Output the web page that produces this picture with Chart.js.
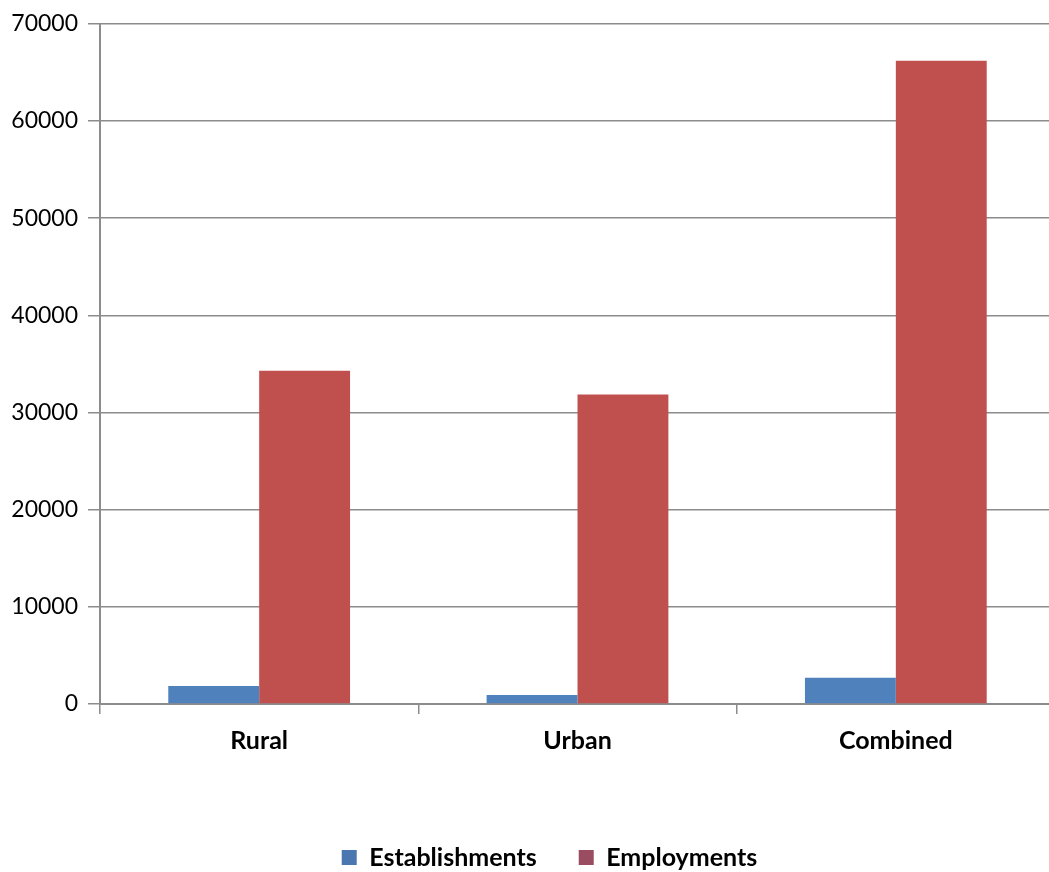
<!DOCTYPE html>
<html>
<head>
<meta charset="utf-8">
<script src="https://cdn.jsdelivr.net/npm/chart.js@4.4.0/dist/chart.umd.min.js"></script>
<style>
  html, body { margin: 0; padding: 0; background: #fff; overflow: hidden; }
  #wrap { width: 1049px; height: 872px; overflow: hidden; }
</style>
</head>
<body>
<div id="wrap"><canvas id="myChart" width="1060" height="884"></canvas></div>
<script>
const categories = ['Rural', 'Urban', 'Combined'];
const establishments = [1850, 930, 2700];
const employments = [34300, 31850, 66200];
const yTicks = [0, 10000, 20000, 30000, 40000, 50000, 60000, 70000];

const FONT = 'Lato, "Open Sans", sans-serif';

const data = {
    labels: categories,
    datasets: [{
        label: 'Establishments',
        data: establishments,
        backgroundColor: '#4f81bd',
        categoryPercentage: 0.571,
        barPercentage: 1.0
    }, {
        label: 'Employments',
        data: employments,
        backgroundColor: '#c0504d',
        categoryPercentage: 0.571,
        barPercentage: 1.0
    }]
};

const legendColors = ['#4a77b0', '#9a4d61'];

// the legend in the original sits a little right of centre
const legendShift = {
    id: 'legendShift',
    afterLayout: function (chart) {
        chart.legend.left += 22;
        chart.legend.right += 22;
    }
};

const config = {
    type: 'bar',
    data: data,
    plugins: [legendShift],
    options: {
        responsive: false,
        animation: false,
        layout: { padding: { top: 12, left: 0, right: 5, bottom: 4 } },
        plugins: {
            tooltip: { enabled: false },
            legend: {
                position: 'bottom',
                labels: {
                    font: { family: FONT, size: 25, weight: 'bold' },
                    color: '#000',
                    boxWidth: 15,
                    boxHeight: 15,
                    padding: 42,
                    generateLabels: function (chart) {
                        return chart.data.datasets.map(function (ds, i) {
                            return {
                                text: ds.label,
                                fillStyle: legendColors[i],
                                strokeStyle: legendColors[i],
                                lineWidth: 0,
                                datasetIndex: i,
                                fontColor: '#000'
                            };
                        });
                    }
                }
            }
        },
        scales: {
            x: {
                offset: true,
                grid: {
                    offset: true,
                    drawOnChartArea: false,
                    drawTicks: true,
                    tickLength: 10,
                    color: '#8c8c8c',
                    lineWidth: 1.5
                },
                border: { color: '#8c8c8c', width: 2 },
                ticks: {
                    font: { family: FONT, size: 25, weight: 'bold' },
                    color: '#000',
                    padding: 12
                },
                afterFit: function (scale) { scale.height += 35; }
            },
            y: {
                min: 0,
                max: 70000,
                afterBuildTicks: function (scale) {
                    scale.ticks = yTicks.map(function (v) { return { value: v }; });
                },
                grid: {
                    color: '#8c8c8c',
                    lineWidth: 1.5,
                    tickLength: 12
                },
                border: { color: '#8c8c8c', width: 2 },
                ticks: {
                    font: { family: FONT, size: 23 },
                    color: '#000',
                    padding: 10,
                    callback: function (value) { return String(value); }
                },
                afterFit: function (scale) { scale.width = 100; }
            }
        }
    }
};

var myChart = new Chart(document.getElementById('myChart'), config);
</script>
</body>
</html>
